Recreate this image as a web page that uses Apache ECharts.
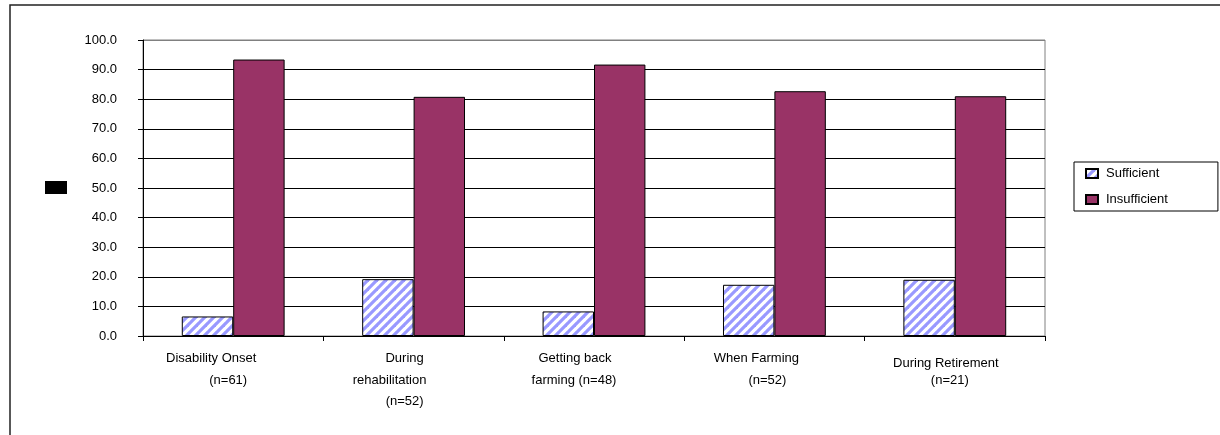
<!DOCTYPE html>
<html>
<head>
<meta charset="utf-8">
<script src="https://cdn.jsdelivr.net/npm/echarts@6/dist/echarts.min.js"></script>
<style>
html,body{margin:0;padding:0;background:#fff;}
#chart{width:1220px;height:435px;}
</style>
</head>
<body>
<div id="chart"></div>
<script>
// ---- data ----
const categoryLines = [
  ["Disability Onset", "(n=61)"],
  ["During", "rehabilitation", "(n=52)"],
  ["Getting back", "farming (n=48)"],
  ["When Farming", "(n=52)"],
  ["During Retirement", "(n=21)"]
];
const sufficient = [6.6, 19.2, 8.3, 17.3, 19.0];
const insufficient = [93.4, 80.8, 91.7, 82.7, 81.0];
const yTicks = ["0.0","10.0","20.0","30.0","40.0","50.0","60.0","70.0","80.0","90.0","100.0"];
const seriesNames = ["Sufficient", "Insufficient"];

// ---- layout tweaks for label lines (horizontal nudge in px, negative = left) ----
const lineNudge = [[-22, -5], [-9, -24, -9], [-19, -20], [-18, -7], [-9, -5]];

const FONT = "'Liberation Sans', Arial, sans-serif";

// striped pattern for "Sufficient"
const T = 9;
const tile = document.createElement('canvas');
tile.width = T; tile.height = T;
const tc = tile.getContext('2d');
tc.fillStyle = '#ffffff';
tc.fillRect(0, 0, T, T);
tc.strokeStyle = '#9999ff';
tc.lineWidth = 3.2;
[0, T, 2 * T].forEach(k => {
  tc.beginPath();
  tc.moveTo(k + 3, -3);
  tc.lineTo(k - T - 3, T + 3);
  tc.stroke();
});

const rich = {};
categoryLines.forEach((lines, i) => {
  lines.forEach((l, j) => {
    const dx = lineNudge[i][j];
    rich['c' + i + '_' + j] = {
      fontFamily: FONT, fontSize: 13, color: '#000',
      lineHeight: i === 4 ? 17 : 21.5,
      padding: [0, dx < 0 ? -2 * dx : 0, 0, dx > 0 ? 2 * dx : 0]
    };
  });
});

const categories = categoryLines.map((lines, i) => {
  const item = { value: lines.join('\n') };
  if (i === 4) item.textStyle = { padding: [7, 0, 0, 0] };
  return item;
});

const chart = echarts.init(document.getElementById('chart'), null, { renderer: 'canvas' });
chart.setOption({
  animation: false,
  backgroundColor: '#fff',
  textStyle: { fontFamily: FONT },
  graphic: [
    { type: 'rect', shape: { x: 10, y: 5, width: 1400, height: 600 },
      style: { fill: null, stroke: '#222', lineWidth: 1.5 }, silent: true },
    { type: 'rect', shape: { x: 45, y: 181, width: 22, height: 13 },
      style: { fill: '#000' }, silent: true }
  ],
  grid: {
    left: 143, top: 40, right: 175, bottom: 99,
    show: true, borderColor: '#808080', borderWidth: 1, backgroundColor: '#fff'
  },
  legend: {
    orient: 'vertical',
    left: 1074, top: 162,
    padding: [5, 50, 5, 11],
    itemGap: 13,
    itemWidth: 12, itemHeight: 9,
    icon: 'rect',
    borderColor: '#000', borderWidth: 1,
    textStyle: { fontFamily: FONT, fontSize: 13, color: '#000', padding: [0, 0, 0, 3] },
    data: seriesNames
  },
  xAxis: {
    type: 'category',
    data: categories,
    axisLine: { lineStyle: { color: '#000', width: 1 } },
    axisTick: { show: true, length: 5, lineStyle: { color: '#000' } },
    axisLabel: {
      interval: 0, margin: 12,
      fontFamily: FONT, fontSize: 13, color: '#000',
      formatter: function (value, idx) {
        return categoryLines[idx].map((l, j) => '{c' + idx + '_' + j + '|' + l + '}').join('\n');
      },
      rich: rich
    },
    splitLine: { show: false }
  },
  yAxis: {
    type: 'value',
    min: 0, max: 100, interval: 10,
    axisLine: { show: true, lineStyle: { color: '#000', width: 1 } },
    axisTick: { show: true, length: 5, lineStyle: { color: '#000' } },
    axisLabel: {
      margin: 26, fontFamily: FONT, fontSize: 13, color: '#000',
      formatter: function (v) { return yTicks[Math.round(v / 10)]; }
    },
    splitLine: {
      show: true,
      lineStyle: { color: ['#000','#000','#000','#000','#000','#000','#000','#000','#000','#000','#808080'], width: 1 }
    }
  },
  series: [
    {
      name: seriesNames[0], type: 'bar', data: sufficient,
      barGap: '0%', barCategoryGap: '43%',
      itemStyle: { color: { image: tile, repeat: 'repeat' }, borderColor: '#000', borderWidth: 1 }
    },
    {
      name: seriesNames[1], type: 'bar', data: insufficient,
      barGap: '0%', barCategoryGap: '43%',
      itemStyle: { color: '#993366', borderColor: '#000', borderWidth: 1 }
    }
  ]
});
</script>
</body>
</html>
